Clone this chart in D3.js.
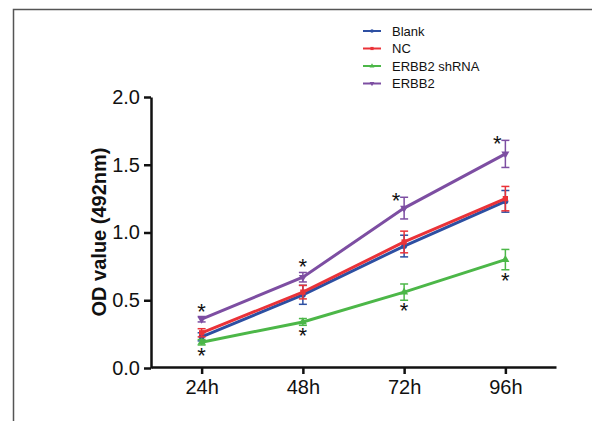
<!DOCTYPE html>
<html lang="en">
<head>
<meta charset="utf-8">
<title>OD value</title>
<script src="https://d3js.org/d3.v7.min.js"></script>
<style>
  body { margin: 0; background: #fff; }
  svg text { font-family: "Liberation Sans", Arial, sans-serif; }
</style>
</head>
<body>
<div id="chart"></div>
<script>
// time points on X axis
var times = ["24h", "48h", "72h", "96h"];
var yTicks = [0, 0.5, 1.0, 1.5, 2.0];

// series names and their values (mean, error)
var seriesNames = ["Blank", "NC", "ERBB2 shRNA", "ERBB2"];
var blankMean = [0.23, 0.54, 0.90, 1.23];
var blankErr = [0.03, 0.07, 0.08, 0.08];
var ncMean = [0.26, 0.56, 0.93, 1.25];
var ncErr = [0.03, 0.05, 0.08, 0.09];
var shMean = [0.19, 0.34, 0.56, 0.80];
var shErr = [0.02, 0.025, 0.06, 0.075];
var erbbMean = [0.36, 0.67, 1.18, 1.58];
var erbbErr = [0.02, 0.035, 0.08, 0.10];

// significance stars: series, time index, side
var stars = [
  { s: "ERBB2", t: 0, side: "above" },
  { s: "ERBB2", t: 1, side: "above" },
  { s: "ERBB2", t: 2, side: "left" },
  { s: "ERBB2", t: 3, side: "left" },
  { s: "ERBB2 shRNA", t: 0, side: "below" },
  { s: "ERBB2 shRNA", t: 1, side: "below" },
  { s: "ERBB2 shRNA", t: 2, side: "below" },
  { s: "ERBB2 shRNA", t: 3, side: "below" }
];

var W = 592, H = 421;
var colors = { "Blank": "#2d4fa2", "NC": "#ea3238", "ERBB2 shRNA": "#4cb748", "ERBB2": "#7d4ea2" };
var symbols = { "Blank": d3.symbolCircle, "NC": d3.symbolSquare, "ERBB2 shRNA": d3.symbolTriangle, "ERBB2": d3.symbolTriangle };

var data = [
  { name: "Blank", mean: blankMean, err: blankErr },
  { name: "NC", mean: ncMean, err: ncErr },
  { name: "ERBB2 shRNA", mean: shMean, err: shErr },
  { name: "ERBB2", mean: erbbMean, err: erbbErr }
];

var svg = d3.select("#chart").append("svg")
  .attr("width", W).attr("height", H);

// frame around the figure panel
svg.append("path")
  .attr("d", "M13.5," + H + "V9.5H" + W)
  .attr("fill", "none")
  .attr("stroke", "#555")
  .attr("stroke-width", 1.5);

var x = d3.scalePoint().domain(times).range([151, 556]).padding(0.5);
var y = d3.scaleLinear().domain([0, 2]).range([368, 97]);

// X axis
var xAxis = svg.append("g")
  .attr("transform", "translate(0,367)")
  .call(d3.axisBottom(x).tickSize(7).tickPadding(6).tickSizeOuter(0));
xAxis.selectAll("text").attr("font-size", 20).attr("fill", "#111");

// Y axis
var yAxis = svg.append("g")
  .attr("transform", "translate(151,0)")
  .call(d3.axisLeft(y).tickValues(yTicks).tickFormat(d3.format(".1f")).tickSize(7).tickPadding(4).tickSizeOuter(0));
yAxis.selectAll("text").attr("font-size", 20).attr("fill", "#111");

svg.selectAll(".domain, .tick line")
  .attr("stroke", "#111")
  .attr("stroke-width", 2.5);

// Y label
svg.append("text")
  .attr("transform", "translate(106,232) rotate(-90)")
  .attr("text-anchor", "middle")
  .attr("font-size", 20)
  .attr("font-weight", "bold")
  .attr("fill", "#111")
  .text("OD value (492nm)");

var line = d3.line()
  .x(function (d, i) { return x(times[i]); })
  .y(function (d) { return y(d); });

var g = svg.selectAll(".series")
  .data(data)
  .join("g")
  .attr("class", "series");

// error bars
g.each(function (s) {
  var sel = d3.select(this);
  var c = colors[s.name];
  s.mean.forEach(function (m, i) {
    var cx = x(times[i]);
    var top = y(m + s.err[i]), bot = y(m - s.err[i]);
    sel.append("line").attr("x1", cx).attr("x2", cx).attr("y1", top).attr("y2", bot)
      .attr("stroke", c).attr("stroke-width", 1.5);
    [top, bot].forEach(function (yy) {
      sel.append("line").attr("x1", cx - 4).attr("x2", cx + 4).attr("y1", yy).attr("y2", yy)
        .attr("stroke", c).attr("stroke-width", 1.5);
    });
  });
});

// lines
g.append("path")
  .attr("d", function (s) { return line(s.mean); })
  .attr("fill", "none")
  .attr("stroke", function (s) { return colors[s.name]; })
  .attr("stroke-width", 3);

// markers
g.each(function (s) {
  d3.select(this).selectAll("path.mk")
    .data(s.mean)
    .join("path")
    .attr("class", "mk")
    .attr("d", d3.symbol().type(symbols[s.name]).size(28))
    .attr("transform", function (d, i) {
      return "translate(" + x(times[i]) + "," + y(d) + ")" + (s.name === "ERBB2" ? " rotate(180)" : "");
    })
    .attr("fill", colors[s.name]);
});

// stars
svg.selectAll(".star")
  .data(stars)
  .join("text")
  .attr("class", "star")
  .attr("text-anchor", "middle")
  .attr("font-size", 22)
  .attr("fill", "#111")
  .attr("x", function (d) {
    var cx = x(times[d.t]);
    return d.side === "left" ? cx - 8 : cx;
  })
  .attr("y", function (d) {
    var s = data.find(function (e) { return e.name === d.s; });
    var m = s.mean[d.t], e = s.err[d.t];
    if (d.side === "below") return y(m - e) + 18;
    if (d.side === "above") return y(m + e) + 2;
    return y(m + e) + 11;
  })
  .text("*");

// legend
var leg = svg.append("g").attr("transform", "translate(363,31)");
var li = leg.selectAll("g")
  .data(seriesNames)
  .join("g")
  .attr("transform", function (d, i) { return "translate(0," + (i * 17.5) + ")"; });
li.append("line").attr("x1", 0).attr("x2", 18).attr("y1", 0).attr("y2", 0)
  .attr("stroke", function (d) { return colors[d]; }).attr("stroke-width", 2);
li.append("path")
  .attr("d", function (d) { return d3.symbol().type(symbols[d]).size(10)(); })
  .attr("transform", function (d) { return "translate(9,0)" + (d === "ERBB2" ? " rotate(180)" : ""); })
  .attr("fill", function (d) { return colors[d]; });
li.append("text")
  .attr("x", 29).attr("y", 4.5)
  .attr("font-size", 13)
  .attr("fill", "#111")
  .text(function (d) { return d; });
</script>
</body>
</html>
